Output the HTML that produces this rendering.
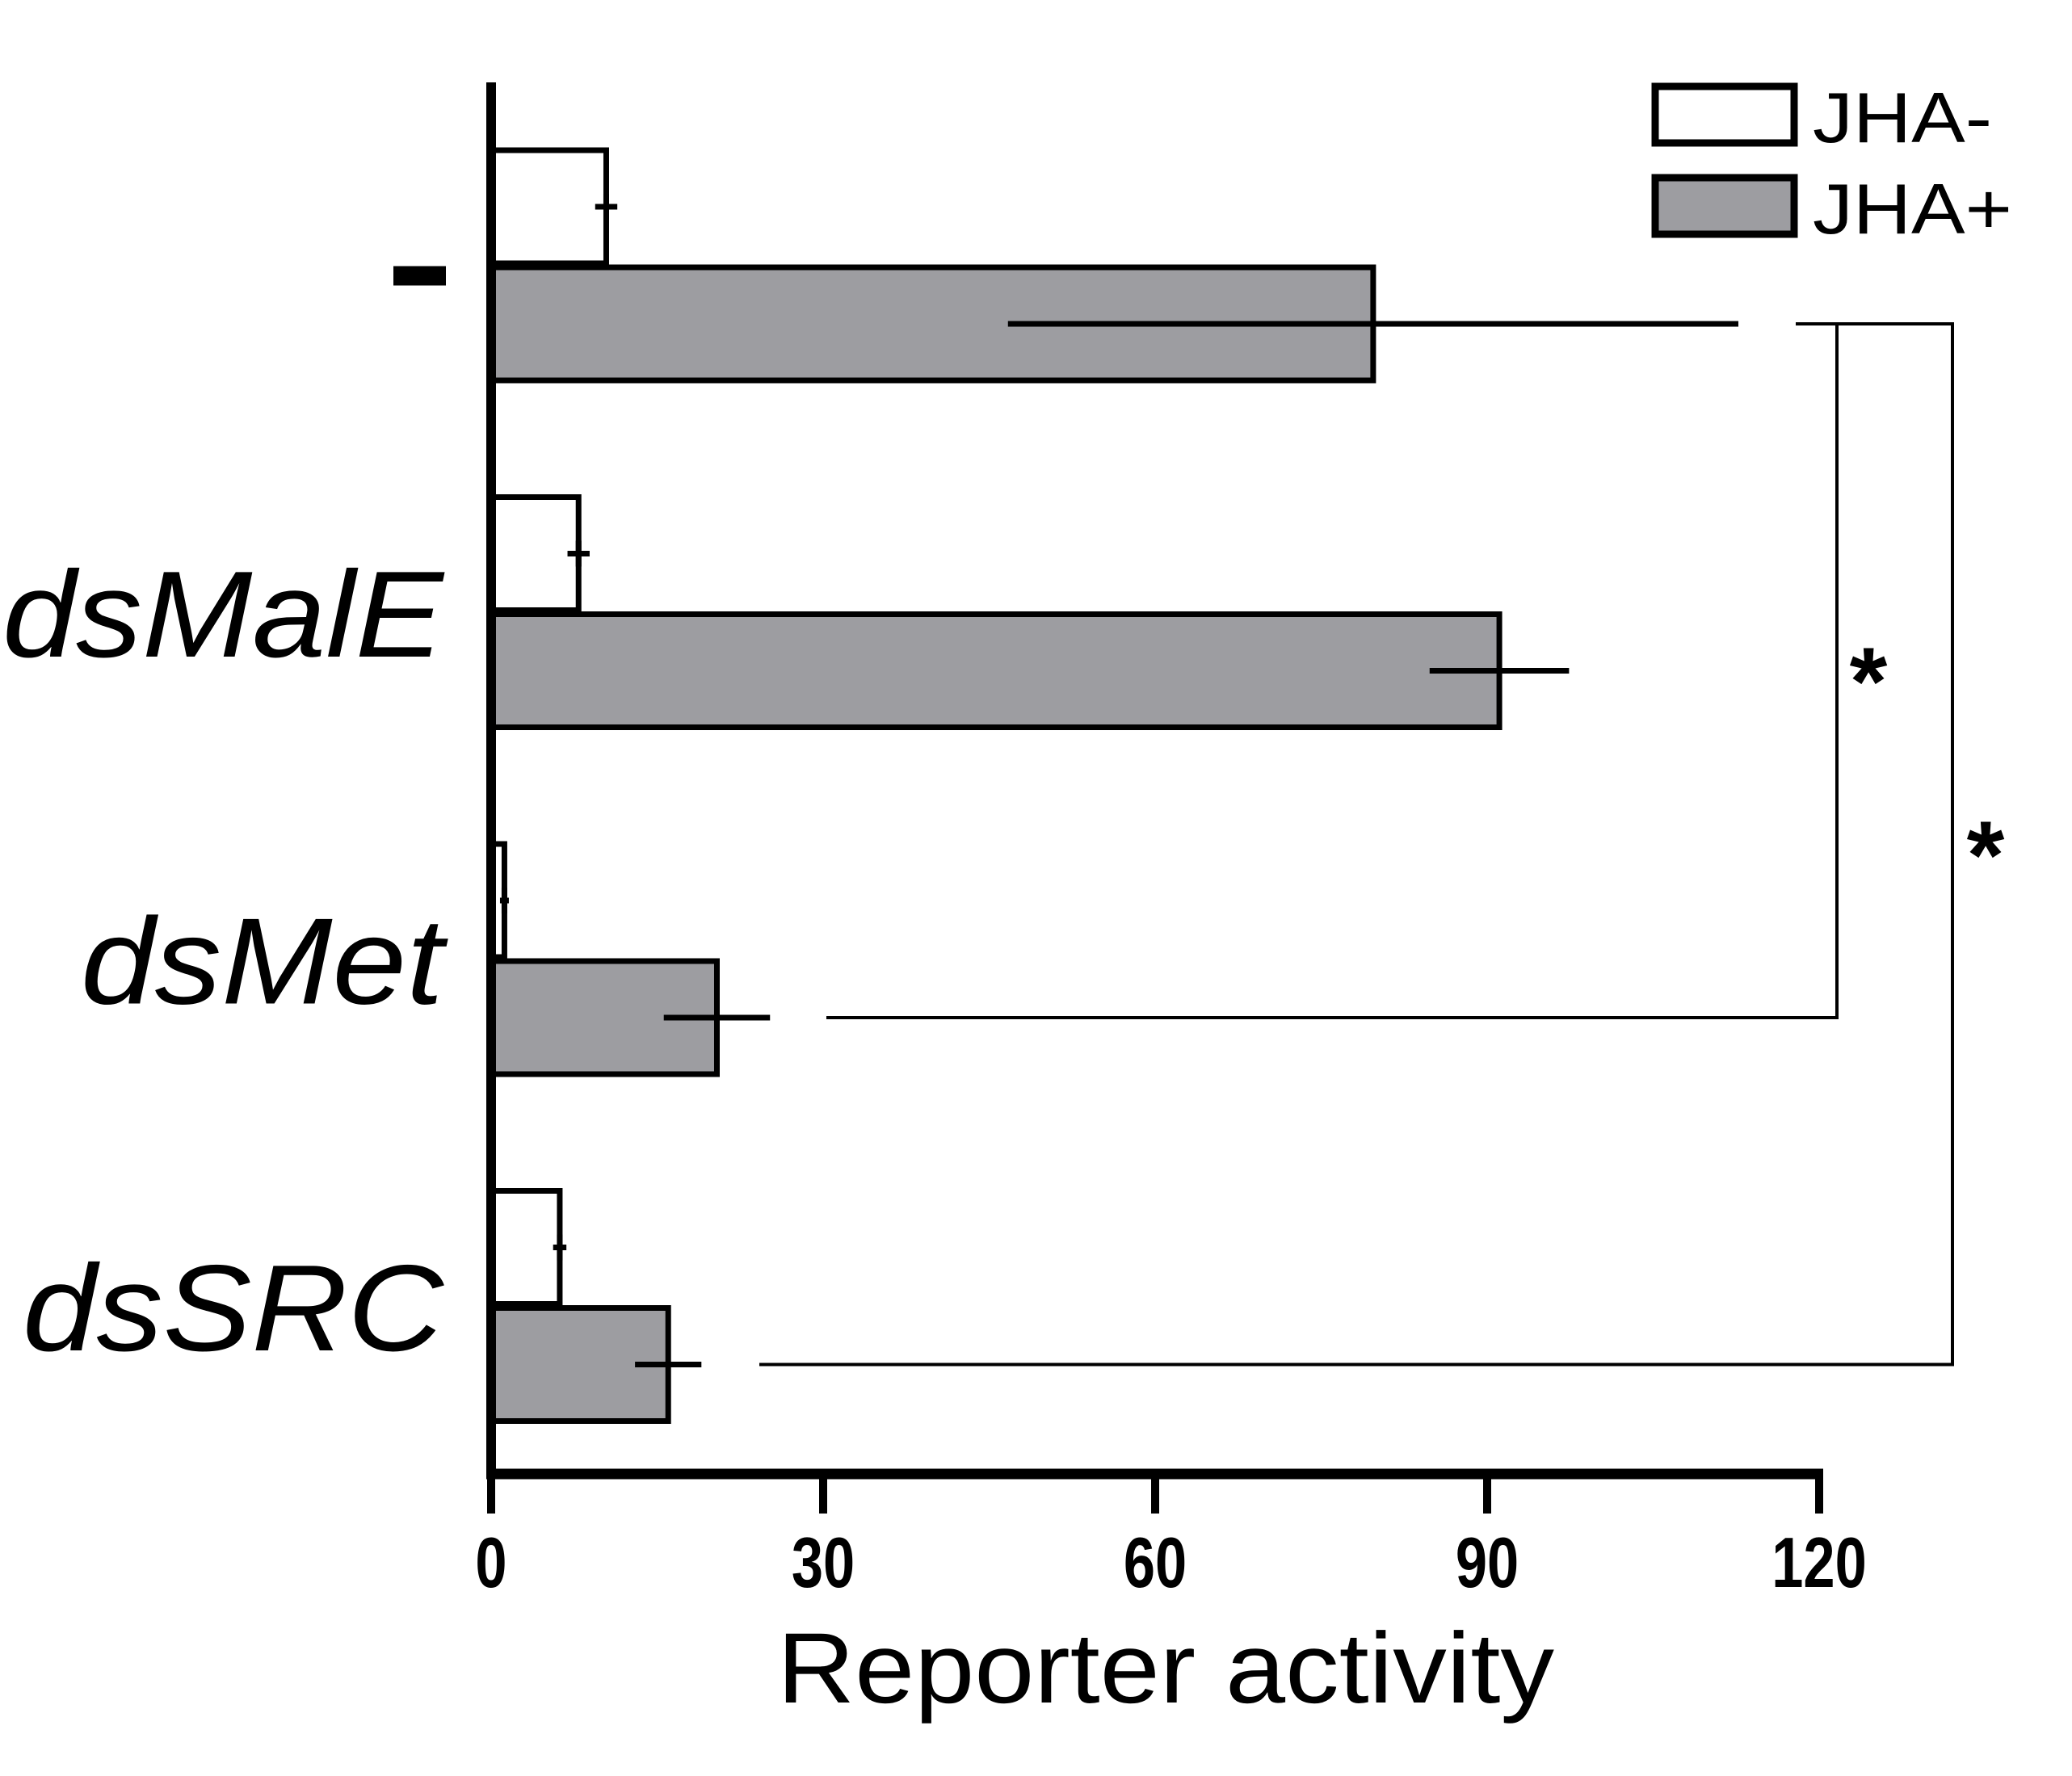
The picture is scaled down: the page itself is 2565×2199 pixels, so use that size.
<!DOCTYPE html>
<html><head><meta charset="utf-8"><style>
html,body{margin:0;padding:0;background:#fff;}
svg{display:block;}
text{font-family:"Liberation Sans",sans-serif;}
</style></head><body>
<svg id="chart" width="2565" height="2199" viewBox="0 0 2565 2199" xmlns="http://www.w3.org/2000/svg">
<g id="plot"></g>
</svg>
<script>
const categories = ["-", "dsMalE", "dsMet", "dsSRC"];
const jhaMinus = [10.4, 7.9, 1.2, 6.2];
const jhaMinusErr = [1.0, 1.0, 0.4, 0.6];
const jhaPlus = [79.7, 91.1, 20.4, 16.0];
const jhaPlusErr = [33.0, 6.3, 4.8, 3.0];
const xTicks = [0, 30, 60, 90, 120];
const seriesNames = ["JHA-", "JHA+"];

const NS = "http://www.w3.org/2000/svg";
const g = document.getElementById("plot");
const X0 = 608, XMAX = 120, X1 = 2252;
function xs(v){ return X0 + v * (X1 - X0) / XMAX; }
const GROUP0 = 186, GROUP_STEP = 429.5, BAR_H = 140, BAR_GAP = 5;
function barTop(i, s){ return GROUP0 + i * GROUP_STEP + s * (BAR_H + BAR_GAP); }
function mk(tag, attrs, parent){
  const e = document.createElementNS(NS, tag);
  for (const k in attrs) e.setAttribute(k, attrs[k]);
  (parent || g).appendChild(e);
  return e;
}
const GRAY = "#9d9da1";

// bars
categories.forEach((c, i) => {
  [[jhaMinus, jhaMinusErr, "#fff", "jha-minus"], [jhaPlus, jhaPlusErr, GRAY, "jha-plus"]].forEach((sd, s) => {
    const v = sd[0][i], err = sd[1][i];
    const y = barTop(i, s);
    const r = mk("rect", {x: X0, y: y, width: xs(v) - X0, height: BAR_H, fill: sd[2], stroke: "#000", "stroke-width": 7});
    
    
    const cy = y + BAR_H / 2;
    const e = mk("line", {x1: xs(v - err), x2: xs(v + err), y1: cy, y2: cy, stroke: "#000", "stroke-width": 7});
    
    
    if (s === 0) {
      const t = mk("line", {x1: xs(v), x2: xs(v), y1: cy - 16, y2: cy + 16, stroke: "#000", "stroke-width": 7});
      
      
    }
  });
  // category label
  const baseY = GROUP0 + i * GROUP_STEP + BAR_H + BAR_GAP / 2 + 55;
  if (c === "-") {
    const d = mk("rect", {x: 487, y: baseY - 54, width: 65, height: 24, fill: "#000"});
    
    
  } else {
    const lens = {dsMalE: 546, dsMet: 449, dsSRC: 521};
    const t = mk("text", {x: 549, y: baseY, "text-anchor": "end", "font-size": 152, "font-style": "italic", textLength: lens[c], lengthAdjust: "spacingAndGlyphs"});
    t.textContent = c;
    
    
  }
});

// axes
const ya = mk("line", {x1: X0, x2: X0, y1: 102, y2: 1831, stroke: "#000", "stroke-width": 12});


const xa = mk("line", {x1: X0 - 6, x2: xs(120) + 5, y1: 1825, y2: 1825, stroke: "#000", "stroke-width": 13});


xTicks.forEach(v => {
  const t = mk("line", {x1: xs(v), x2: xs(v), y1: 1825, y2: 1874, stroke: "#000", "stroke-width": 10});
  
  
  const l = mk("text", {x: xs(v), y: 1965, "text-anchor": "middle", "font-size": 88, "font-weight": "bold", transform: "translate(" + xs(v) + ",0) scale(0.8,1) translate(" + (-xs(v)) + ",0)"});
  l.textContent = v;
  
  
});
const xt = mk("text", {x: 962, y: 2108, "font-size": 124, textLength: 962, lengthAdjust: "spacingAndGlyphs"});
xt.textContent = "Reporter activity";



// significance brackets
const yTop = barTop(0, 1) + BAR_H / 2;
const yMet = barTop(2, 1) + BAR_H / 2;
const ySrc = barTop(3, 1) + BAR_H / 2;
const b1 = mk("polyline", {points: `2223,${yTop} 2274,${yTop} 2274,${yMet} 1023,${yMet}`, fill: "none", stroke: "#000", "stroke-width": 4});


const b2 = mk("polyline", {points: `2274,${yTop} 2417,${yTop} 2417,${ySrc} 940,${ySrc}`, fill: "none", stroke: "#000", "stroke-width": 4});


const s1 = mk("text", {x: 2313, y: 885, "text-anchor": "middle", "font-size": 120, "font-weight": "bold"});
s1.textContent = "*";


const s2 = mk("text", {x: 2458, y: 1100, "text-anchor": "middle", "font-size": 120, "font-weight": "bold"});
s2.textContent = "*";



// legend
const legY = [107, 220];
const legTxtY = [176, 289];
const legLen = [222, 247];
seriesNames.forEach((n, k) => {
  const r = mk("rect", {x: 2049, y: legY[k], width: 172, height: 70, fill: k ? GRAY : "#fff", stroke: "#000", "stroke-width": 9});
  
  
  const t = mk("text", {x: 2244, y: legTxtY[k], "font-size": 88, textLength: legLen[k], lengthAdjust: "spacingAndGlyphs"});
  t.textContent = n;
  
  
});
</script>
</body></html>
